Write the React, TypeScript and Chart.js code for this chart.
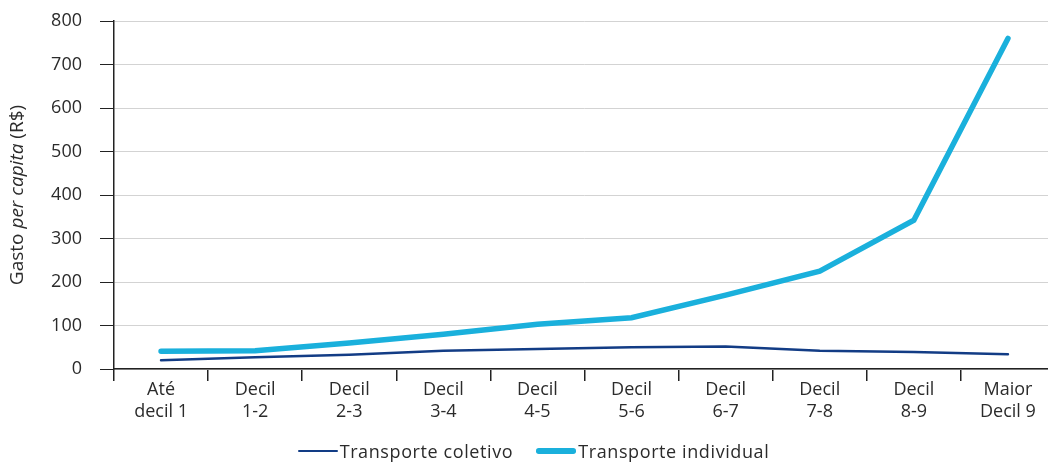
import React, { useEffect, useRef } from "react";
import { Chart, registerables } from "chart.js";

Chart.register(...registerables);

const categories: string[][] = [
  ["Até", "decil 1"],
  ["Decil", "1-2"],
  ["Decil", "2-3"],
  ["Decil", "3-4"],
  ["Decil", "4-5"],
  ["Decil", "5-6"],
  ["Decil", "6-7"],
  ["Decil", "7-8"],
  ["Decil", "8-9"],
  ["Maior", "Decil 9"],
];

const coletivo: number[] = [20, 27, 33, 42, 46, 50, 52, 42, 39, 34];
const individual: number[] = [41, 42, 60, 80, 103, 118, 170, 225, 342, 760];

const yTicks: number[] = [0, 100, 200, 300, 400, 500, 600, 700, 800];

const seriesNames: string[] = ["Transporte coletivo", "Transporte individual"];
const seriesColors: string[] = ["#123c85", "#1ab0dc"];
const seriesWidths: number[] = [2.5, 5.5];

const FONT = "'Open Sans', 'Noto Sans', sans-serif";
const TEXT = "#2b2b2b";

const yTitlePlugin = {
  id: "yTitle",
  afterDraw(chart: any) {
    const ctx = chart.ctx;
    const area = chart.chartArea;
    const parts = [
      { t: "Gasto ", f: `normal 19px ${FONT}` },
      { t: "per capita", f: `italic 19px ${FONT}` },
      { t: " (R$)", f: `normal 19px ${FONT}` },
    ];
    ctx.save();
    let total = 0;
    const widths = parts.map((p) => {
      ctx.font = p.f;
      const w = ctx.measureText(p.t).width;
      total += w;
      return w;
    });
    ctx.translate(18, (area.top + area.bottom) / 2);
    ctx.rotate(-Math.PI / 2);
    ctx.fillStyle = TEXT;
    ctx.textBaseline = "middle";
    ctx.textAlign = "left";
    let x = -total / 2;
    parts.forEach((p, i) => {
      ctx.font = p.f;
      ctx.fillText(p.t, x, 0);
      x += widths[i];
    });
    ctx.restore();
  },
};

export default function App() {
  const ref = useRef<HTMLCanvasElement | null>(null);

  useEffect(() => {
    if (!ref.current) return;
    const chart = new Chart(ref.current, {
      type: "line",
      data: {
        labels: categories,
        datasets: [
          {
            label: seriesNames[0],
            data: coletivo,
            borderColor: seriesColors[0],
            backgroundColor: seriesColors[0],
            borderWidth: seriesWidths[0],
            pointRadius: 0,
            tension: 0,
            borderCapStyle: "round",
          },
          {
            label: seriesNames[1],
            data: individual,
            borderColor: seriesColors[1],
            backgroundColor: seriesColors[1],
            borderWidth: seriesWidths[1],
            pointRadius: 0,
            tension: 0,
            borderCapStyle: "round",
          },
        ],
      },
      options: {
        animation: false,
        responsive: false,
        maintainAspectRatio: false,
        layout: { padding: { top: 21, left: 0, right: 0, bottom: 23 } },
        plugins: {
          legend: { display: false },
          tooltip: { enabled: false },
        },
        scales: {
          x: {
            type: "category",
            offset: true,
            grid: {
              offset: true,
              drawOnChartArea: false,
              tickLength: 12,
              tickColor: "#222",
              lineWidth: 1.5,
            },
            border: { display: true, color: "#222", width: 1.5 },
            ticks: {
              color: TEXT,
              font: { family: FONT, size: 18, lineHeight: 1.2 },
              padding: -2,
              maxRotation: 0,
              autoSkip: false,
            },
            afterFit(scale: any) {
              scale.height = 70;
              scale.paddingLeft = 0;
              scale.paddingRight = 0;
            },
          },
          y: {
            min: 0,
            max: 800,
            afterBuildTicks(scale: any) {
              scale.ticks = yTicks.map((v) => ({ value: v }));
            },
            grid: {
              color: "#d3d3d3",
              tickColor: "#222",
              tickLength: 14,
              lineWidth: 1,
            },
            border: { display: true, color: "#222", width: 1.5 },
            ticks: {
              color: TEXT,
              font: { family: FONT, size: 18 },
              padding: 18,
            },
            afterFit(scale: any) {
              scale.width = 114;
              scale.paddingTop = 0;
              scale.paddingBottom = 0;
            },
          },
        },
      },
      plugins: [yTitlePlugin],
    });
    return () => chart.destroy();
  }, []);

  return (
    <div style={{ position: "fixed", left: 0, top: 0, width: 1048, height: 462, background: "#fff", overflow: "hidden" }}>
      <canvas ref={ref} width={1055} height={462} style={{ width: 1055, height: 462, display: "block" }} />
      <div
        style={{
          position: "absolute",
          left: 0,
          width: 1048,
          top: 439,
          height: 24,
          display: "flex",
          justifyContent: "center",
          alignItems: "center",
          gap: 23,
          paddingLeft: 19,
          boxSizing: "border-box",
          fontFamily: FONT,
          fontSize: 18,
          letterSpacing: 0.6,
          color: TEXT,
        }}
      >
        {seriesNames.map((n, i) => (
          <div key={n} style={{ display: "flex", alignItems: "center" }}>
            <span
              style={{
                display: "inline-block",
                width: 40,
                height: seriesWidths[i],
                borderRadius: seriesWidths[i] / 2,
                background: seriesColors[i],
                marginRight: 2,
              }}
            />
            <span>{n}</span>
          </div>
        ))}
      </div>
    </div>
  );
}
